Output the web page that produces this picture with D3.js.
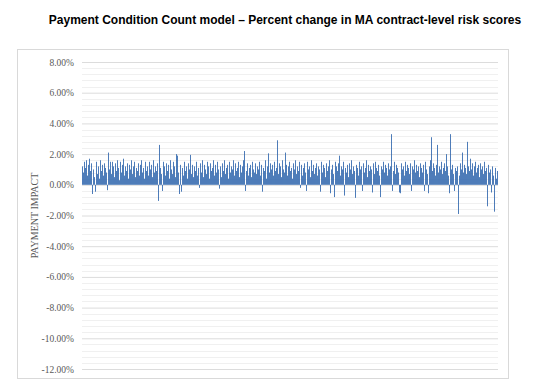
<!DOCTYPE html>
<html>
<head>
<meta charset="utf-8">
<script src="https://cdn.jsdelivr.net/npm/d3@7"></script>
<style>
  body { margin: 0; background: #fff; }
  svg { display: block; }
</style>
</head>
<body>
<svg id="chart"></svg>
<script>
const width = 551;
const height = 389;

const title = 'Payment Condition Count model \u2013 Percent change in MA contract-level risk scores';
const yTitle = 'PAYMENT IMPACT';
const yTicks = [8, 6, 4, 2, 0, -2, -4, -6, -8, -10, -12];

// percent change per contract, read left to right
const impacts = [
  1.2, 0.8, 1.5, 1.1, 1.6, 0.6, 1.3, 1.7, 0.9, 1.4, -0.6, 1.0, 0.5, -0.45, 1.5, 0.7,
  1.2, 0.4, 1.6, 0.9, 1.3, 0.6, 1.4, 1.1, 0.8, -0.35, 2.1, 1.0, 1.5, 0.7, 1.5, 1.2,
  0.5, 1.4, 0.9, 1.6, 1.1, 0.3, 1.5, 0.8, 1.3, 1.7, 0.6, 1.2, 0.9, 1.4, 0.4, 1.3,
  1.0, 1.6, 0.7, 1.2, 1.5, 0.5, 1.1, 0.9, 1.4, 0.6, 1.3, 1.6, 0.8, 1.1, 0.4, 1.5,
  0.9, 1.2, 0.6, 1.5, 1.0, 1.3, 0.5, 1.6, 0.8, 1.2, 0.9, 1.4, -1.05, 2.6, 1.1, 0.7,
  -0.4, 1.5, 1.2, 0.6, 1.4, 0.9, 1.3, 0.4, 1.6, 1.0, 0.7, 1.5, 1.2, 0.5, 2.0, 1.9,
  0.8, -0.6, 1.3, -0.45, 1.1, 0.6, 1.5, 0.9, 1.2, 0.4, 1.4, 1.0, 1.95, 0.7, 1.3, 0.5,
  1.2, 0.9, 1.5, 0.6, 1.1, -0.2, 1.4, 0.8, 1.6, 0.5, 1.3, 1.0, 0.7, 1.5, 1.2, 0.4,
  1.4, 0.9, 1.1, 1.6, 0.6, 1.3, 0.8, 1.5, 1.0, -0.25, 1.2, 0.5, 1.4, 0.9, 1.6, 0.7,
  1.1, 1.3, 0.4, 1.5, 0.8, 1.2, 1.0, 1.6, 0.6, 1.4, 0.9, 1.1, 1.5, 0.5, 1.3, 0.8,
  1.2, 1.6, 2.2, -0.4, 0.9, 1.4, 0.6, 1.1, 1.3, 0.5, 1.5, 1.0, 0.8, 1.4, 0.7, 1.2,
  1.0, 1.5, 0.6, 1.3, -0.45, 1.1, 0.9, 1.6, 0.4, 1.2, 2.05, 0.8, 1.4, 1.0, 1.3, 0.6,
  1.5, 0.9, 1.1, 2.9, 0.7, 1.4, 1.2, 0.5, 1.6, 1.0, 0.8, 2.1, 1.3, 0.6, 1.2, 1.5,
  0.9, 1.1, 0.4, 1.4, 1.0, 1.6, 0.7, 1.2, 0.9, 1.5, -0.2, 1.3, 0.6, 1.1, 1.4, 0.8,
  -0.4, 1.5, 1.0, 1.2, 0.5, 1.6, 0.9, 1.3, 0.7, 1.1, 1.4, 0.6, 1.2, 1.0, -0.45, 1.5,
  0.8, 1.3, 1.1, 0.5, 1.4, 0.9, 1.2, 1.6, -0.55, 1.0, 1.3, 0.7, -0.8, 1.5, 1.2, 0.9,
  1.4, 1.9, 0.6, 1.2, 1.0, 1.5, -0.7, 1.1, 0.8, 1.3, 0.5, 1.4, 1.0, 1.6, 0.7, 1.2,
  0.9, -0.85, 1.3, 1.1, 0.6, 1.5, 1.0, 1.2, -0.4, 1.4, 0.8, 1.1, 1.6, 0.5, 1.3, 0.9,
  1.2, 1.0, -0.5, 1.4, 0.7, 1.5, 1.1, 0.9, 1.3, 0.6, -0.8, 1.2, 1.0, 1.5, 0.8, 1.3,
  1.1, 0.6, 1.4, 1.0, 1.2, 3.3, -0.4, 0.9, 1.5, 0.7, 1.3, 1.1, 0.8, -0.5, -0.55, 1.4,
  1.0, 1.2, 0.6, 1.5, 0.9, 1.3, 1.1, 0.7, 1.4, -0.4, 1.2, 1.0, 1.6, 0.8, 1.3, 0.9,
  1.2, 0.5, 1.4, 1.1, 0.8, 1.3, -0.4, 1.5, 1.0, 0.7, -0.55, 1.2, 1.6, 3.1, 0.9, 1.4,
  1.1, 0.6, 1.3, 2.6, 0.8, 1.2, 1.0, 1.5, 0.7, 1.1, 1.4, 0.9, 2.0, 1.2, 0.6, -0.55,
  3.3, 1.0, 1.3, 0.7, -0.4, 1.1, 0.9, 1.2, -1.9, 0.6, 1.4, 1.0, 2.1, 0.8, 1.3, 1.1,
  0.7, 2.8, 1.2, 0.9, 1.7, 1.0, 1.4, 0.6, 1.2, 1.5, 0.8, 1.1, 1.3, 0.5, 1.4, 1.0,
  1.2, 0.7, 1.5, 0.9, 1.1, -1.4, 1.3, 0.8, 1.0, -0.5, 1.2, 0.6, -1.75, 1.1, 0.4, 0.9
];

const plot = { left: 82, right: 498, top: 62, bottom: 369 };

const svg = d3.select('#chart')
    .attr('width', width)
    .attr('height', height);

// chart area frame
svg.append('rect')
    .attr('x', 17.5).attr('y', 49.5)
    .attr('width', 491).attr('height', 329)
    .attr('fill', '#fff')
    .attr('stroke', '#d9d9d9');

svg.append('text')
    .attr('x', 285).attr('y', 24)
    .attr('text-anchor', 'middle')
    .attr('font-family', 'Liberation Sans, Arial, sans-serif')
    .attr('font-weight', 'bold')
    .attr('font-size', 12)
    .attr('fill', '#000')
    .text(title);

const x = d3.scaleBand()
    .domain(d3.range(impacts.length))
    .range([plot.left, plot.right])
    .paddingInner(0.15);

const y = d3.scaleLinear()
    .domain([-12, 8])
    .range([plot.bottom, plot.top]);

// minor gridlines every 0.4%
const minor = d3.range(-12, 8.001, 0.4).filter(v => Math.abs(v / 2 - Math.round(v / 2)) > 0.01);
svg.append('g').selectAll('line').data(minor).enter().append('line')
    .attr('x1', plot.left).attr('x2', plot.right)
    .attr('y1', d => Math.round(y(d)) + 0.5)
    .attr('y2', d => Math.round(y(d)) + 0.5)
    .attr('stroke', '#f0f0f0');

const yAxis = svg.append('g')
    .attr('transform', `translate(${plot.left}, 0)`)
    .call(d3.axisLeft(y).tickValues(yTicks)
        .tickSize(-(plot.right - plot.left))
        .tickPadding(8)
        .tickFormat(d => d.toFixed(2) + '%'));

yAxis.select('.domain').remove();
yAxis.selectAll('.tick line').attr('stroke', '#dcdcdc');
yAxis.selectAll('.tick text')
    .attr('font-family', 'Liberation Serif, Times New Roman, serif')
    .attr('font-size', 9.5)
    .attr('fill', '#595959');

svg.append('text')
    .attr('transform', `translate(38, ${(plot.top + plot.bottom) / 2}) rotate(-90)`)
    .attr('text-anchor', 'middle')
    .attr('font-family', 'Liberation Serif, Times New Roman, serif')
    .attr('font-size', 10)
    .attr('fill', '#595959')
    .text(yTitle);

svg.append('g').selectAll('rect').data(impacts).enter().append('rect')
    .attr('x', (d, i) => x(i))
    .attr('width', x.bandwidth())
    .attr('y', d => y(Math.max(0, d)))
    .attr('height', d => Math.abs(y(d) - y(0)))
    .attr('fill', '#2f66ad');
</script>
</body>
</html>
